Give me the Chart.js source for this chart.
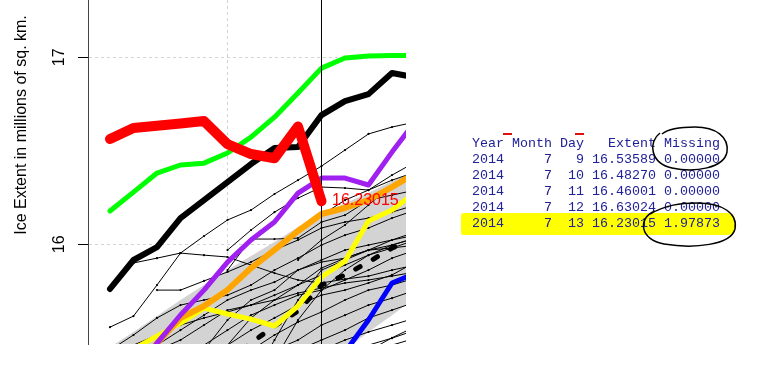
<!DOCTYPE html>
<html>
<head>
<meta charset="utf-8">
<script src="https://cdn.jsdelivr.net/npm/chart.js@4.4.1/dist/chart.umd.min.js"></script>
<style>
html,body{margin:0;padding:0;background:#ffffff;overflow:hidden;}
#wrap{position:relative;width:760px;height:366px;}
#c{position:absolute;left:0;top:0;}
#hl{position:absolute;left:461px;top:213px;width:274px;height:22px;background:#ffff00;border-radius:3px 7px 7px 2px;}
#tbl{position:absolute;left:472px;top:136px;margin:0;font-family:"Liberation Mono","Courier New",monospace;font-size:13.33px;line-height:16px;color:#20209a;white-space:pre;}
#ov{position:absolute;left:0;top:0;}
</style>
</head>
<body>
<div id="wrap">
<canvas id="c" width="760" height="366"></canvas>
<div id="hl"></div>
<pre id="tbl"></pre>
<svg id="ov" width="760" height="366">
 <path d="M 660 133 C 648 142 650 163 672 168 C 695 173 724 168 727 152 C 729 137 716 127 695 127 C 680 127 668 129 662 134" fill="none" stroke="#000" stroke-width="1.5"/>
 <path d="M 655 211 C 637 218 640 240 664 244 C 694 249 731 245 735 229 C 738 213 722 203 697 203 C 680 203 666 205 650 214" fill="none" stroke="#000" stroke-width="1.5"/>
 <line x1="503" y1="134" x2="512" y2="134" stroke="#e01010" stroke-width="2"/>
 <line x1="575" y1="134" x2="584" y2="134" stroke="#e01010" stroke-width="2"/>
</svg>
</div>
<script>
// ---- data (day of year, extent in millions of sq. km) ----
const days = [185,186,187,188,189,190,191,192,193,194,195,196,197,198];
const xGridDays = [190];
const yTickValues = [16, 17];
const markerDay = 194;

const ext2014   = [16.563,16.622,16.634,16.646,16.659,16.53589,16.48270,16.46001,16.63024,16.23015,null,null,null,null];
const extGreen  = [16.178,16.279,16.381,16.424,16.434,16.488,16.573,16.680,16.809,16.942,16.996,17.007,17.009,17.010];
const extBlack  = [15.761,15.916,15.985,16.140,16.236,16.333,16.429,16.515,16.520,16.691,16.766,16.803,16.916,16.892];
const extPurple = [15.10,15.30,15.471,15.622,15.755,15.905,16.023,16.119,16.274,16.354,16.354,16.317,16.493,16.659];
const extOrange = [15.15,15.33,15.471,15.606,15.670,15.756,15.873,15.970,16.071,16.162,16.194,16.237,16.306,16.381];
const extYellow = [15.30,15.44,15.509,15.579,15.659,15.627,15.600,15.563,15.670,15.825,15.910,16.124,16.183,16.279];
const extBlue   = [null,null,null,null,null,null,null,null,null,15.25,15.424,15.595,15.793,15.846];
const extMean   = [null,null,null,null,null,15.37,15.472,15.563,15.643,15.782,15.836,15.905,15.980,16.033];
const bandUpper = [15.450,15.531,15.616,15.702,15.782,15.862,15.937,16.012,16.092,16.162,16.220,16.274,16.338,16.397];
const bandLower = [14.58,14.66,14.74,14.82,14.90,14.98,15.06,15.14,15.22,15.31,15.434,15.531,15.621,15.712];

const otherYears = [
 [15.557,15.616,15.782,15.953,16.044,16.130,16.183,16.269,16.343,16.418,16.504,16.590,16.627,16.654],
 [null,15.900,15.926,15.953,15.942,15.932,15.889,15.846,15.809,15.793,15.814,15.830,15.862,15.889],
 [null,null,null,null,null,15.969,16.076,16.172,16.247,16.306,16.301,16.290,16.343,16.386],
 [null,null,null,null,null,15.862,16.028,16.028,16.033,16.119,16.156,16.236,16.263,16.290],
 [null,null,15.755,15.755,15.804,15.852,15.905,15.969,16.023,16.087,16.119,16.140,16.172,16.210],
 [15.434,15.515,15.606,15.675,15.702,15.728,15.782,15.862,15.926,15.996,16.049,16.087,16.140,16.183],
 [null,15.381,15.461,15.541,15.621,15.702,15.755,15.798,15.862,15.916,15.969,15.996,16.023,16.065],
 [15.274,15.354,15.434,15.488,15.568,15.648,15.675,15.728,15.782,15.836,15.889,15.942,15.996,16.033],
 [15.167,15.247,15.327,15.408,15.461,15.541,15.621,15.675,15.728,15.755,15.809,15.862,15.926,15.969],
 [15.060,15.167,15.247,15.327,15.408,15.461,15.541,15.606,15.675,15.728,15.755,15.793,15.836,15.905],
 [14.953,15.060,15.167,15.247,15.327,15.381,15.434,15.515,15.584,15.638,15.702,15.755,15.782,15.820],
 [14.846,14.953,15.060,15.167,15.247,15.301,15.381,15.434,15.488,15.568,15.621,15.675,15.712,15.755],
 [14.739,14.846,14.953,15.060,15.167,15.247,15.301,15.354,15.434,15.488,15.541,15.606,15.648,15.691],
 [14.632,14.739,14.846,14.953,15.060,15.167,15.220,15.301,15.381,15.434,15.488,15.531,15.568,15.606],
 [null,14.632,14.739,14.846,14.953,15.060,15.167,15.247,15.327,15.381,15.434,15.461,15.498,15.541],
 [null,null,null,null,null,null,null,15.140,15.247,15.301,15.354,15.408,15.461,15.498],
 [null,null,null,null,null,null,null,null,15.200,15.280,15.360,15.430,15.500,15.560],
 [null,null,null,null,null,15.060,15.274,15.488,15.702,15.862,15.916,15.969,16.023,16.049],
 [null,null,null,null,null,null,15.167,15.381,15.595,15.755,15.862,15.942,15.980,15.996],
 [null,null,null,15.220,15.434,15.595,15.702,15.755,15.862,15.905,15.926,15.969,15.980,16.023],
 [null,15.461,15.515,15.568,15.606,15.638,15.675,15.702,15.739,15.766,15.793,15.809,15.830,15.852],
 [null,null,null,null,15.274,15.461,15.606,15.702,15.782,15.873,15.926,15.969,15.996,16.033],
 [null,null,null,null,null,null,null,15.969,16.076,16.156,16.236,16.290,16.370,16.440],
 [null,null,null,null,null,null,null,null,15.916,16.023,16.103,16.210,16.317,16.397]
];

const yTitle = 'Ice Extent in millions of sq. km.';
const tableHeader  = ['Year','Month','Day','Extent','Missing'];
const tableYear    = [2014,2014,2014,2014,2014];
const tableMonth   = [7,7,7,7,7];
const tableDay     = [9,10,11,12,13];
const tableExtent  = ['16.53589','16.48270','16.46001','16.63024','16.23015'];
const tableMissing = ['0.00000','0.00000','0.00000','0.00000','1.97873'];

// ---- table text ----
const rows = [tableHeader[0] + tableHeader[1].padStart(6) + tableHeader[2].padStart(4) + tableHeader[3].padStart(9) + tableHeader[4].padStart(8)];
for (let i = 0; i < tableYear.length; i++) {
  rows.push(String(tableYear[i]) + String(tableMonth[i]).padStart(6) + String(tableDay[i]).padStart(4) + ' ' + tableExtent[i] + ' ' + tableMissing[i]);
}
document.getElementById('tbl').textContent = rows.join('\n');

// ---- chart ----
const FONT = '"Liberation Sans", Arial, sans-serif';
Chart.defaults.font.family = FONT;
const mk = vals => days.map((d, i) => ({x: d, y: vals[i]}));
const base = {tension: 0, pointRadius: 0, borderCapStyle: 'round', borderJoinStyle: 'round', clip: 0, fill: false, spanGaps: false};

const datasets = [];
datasets.push({...base, label: '2014', data: mk(ext2014), borderColor: '#ff0000', borderWidth: 10, order: 0});
datasets.push({...base, label: 'marker', data: [{x: markerDay, y: 14}, {x: markerDay, y: 18}], borderColor: '#000000', borderWidth: 1, borderCapStyle: 'butt', order: 1});
datasets.push({...base, label: 'green', data: mk(extGreen), borderColor: '#00ff00', borderWidth: 5, order: 3});
datasets.push({...base, label: 'black', data: mk(extBlack), borderColor: '#000000', borderWidth: 6, order: 2});
datasets.push({...base, label: 'purple', data: mk(extPurple), borderColor: '#a020f0', borderWidth: 5, order: 4});
datasets.push({...base, label: 'orange', data: mk(extOrange), borderColor: '#ffa500', borderWidth: 6, order: 5});
datasets.push({...base, label: 'yellow', data: mk(extYellow), borderColor: '#ffff00', borderWidth: 5, order: 6});
datasets.push({...base, label: 'blue', data: mk(extBlue), borderColor: '#0000ff', borderWidth: 5, order: 7});
datasets.push({...base, label: 'mean', data: mk(extMean), borderColor: '#000000', borderWidth: 5, borderDash: [5, 15], order: 8});
otherYears.forEach((v, k) => {
  datasets.push({...base, label: 'y' + k, data: mk(v), borderColor: '#000000', borderWidth: 1,
    borderCapStyle: 'butt', borderJoinStyle: 'miter',
    pointRadius: 1.1, pointBackgroundColor: '#000000', pointBorderWidth: 0, order: 50});
});
const lowerIdx = datasets.length;
datasets.push({...base, label: 'bandLow', data: mk(bandLower), borderColor: 'rgba(0,0,0,0)', borderWidth: 0, order: 100});
datasets.push({...base, label: 'bandHigh', data: mk(bandUpper), borderColor: 'rgba(0,0,0,0)', borderWidth: 0,
  backgroundColor: '#d3d3d3', fill: lowerIdx, order: 99});

const annot = {
  id: 'annot',
  afterDatasetsDraw(chart) {
    const {ctx, scales: {x, y}} = chart;
    const last = ext2014.filter(v => v !== null);
    ctx.save();
    ctx.font = '16px ' + FONT;
    ctx.fillStyle = '#ff0000';
    ctx.textAlign = 'left';
    ctx.textBaseline = 'middle';
    ctx.fillText(tableExtent[tableExtent.length - 1], x.getPixelForValue(markerDay) + 10.5, y.getPixelForValue(last[last.length - 1]) - 1);
    ctx.restore();
  },
  afterDraw(chart) {
    const {ctx, scales: {y}} = chart;
    ctx.save();
    ctx.font = '16px ' + FONT;
    ctx.fillStyle = '#000000';
    ctx.textAlign = 'center';
    ctx.textBaseline = 'middle';
    // rotated tick labels (R style, parallel to axis)
    y.ticks.forEach(t => {
      ctx.save();
      ctx.translate(60, y.getPixelForValue(t.value));
      ctx.rotate(-Math.PI / 2);
      ctx.fillText(String(t.value), 0, 0);
      ctx.restore();
    });
    // axis title
    ctx.translate(21.5, 125);
    ctx.rotate(-Math.PI / 2);
    ctx.fillText(yTitle, 0, 0);
    ctx.restore();
  }
};

new Chart(document.getElementById('c'), {
  type: 'line',
  data: {datasets},
  plugins: [annot],
  options: {
    responsive: false, animation: false, devicePixelRatio: 1,
    layout: {padding: {left: 0, top: 0, right: 354, bottom: 0}, autoPadding: false},
    plugins: {legend: {display: false}, tooltip: {enabled: false}, filler: {propagate: false}},
    scales: {
      x: {
        type: 'linear', min: 184.064, max: 197.596,
        afterFit: s => { s.height = 22; s.paddingLeft = 0; s.paddingRight = 0; s.paddingTop = 0; s.paddingBottom = 0; },
        afterBuildTicks: s => { s.ticks = xGridDays.map(v => ({value: v})); },
        ticks: {display: false},
        grid: {color: '#d3d3d3', drawTicks: false, lineWidth: 1},
        border: {display: false, dash: [3, 3]}
      },
      y: {
        type: 'linear', min: 15.4668, max: 17.3064,
        afterFit: s => { s.width = 88; s.paddingTop = 0; s.paddingBottom = 0; s.paddingLeft = 0; s.paddingRight = 0; },
        afterBuildTicks: s => { s.ticks = yTickValues.map(v => ({value: v})); },
        ticks: {display: false},
        grid: {color: '#d3d3d3', tickColor: '#000000', tickLength: 10, tickBorderDash: [], lineWidth: 1},
        border: {display: true, color: '#444444', width: 1, dash: [3, 3]}
      }
    }
  }
});
</script>
</body>
</html>
